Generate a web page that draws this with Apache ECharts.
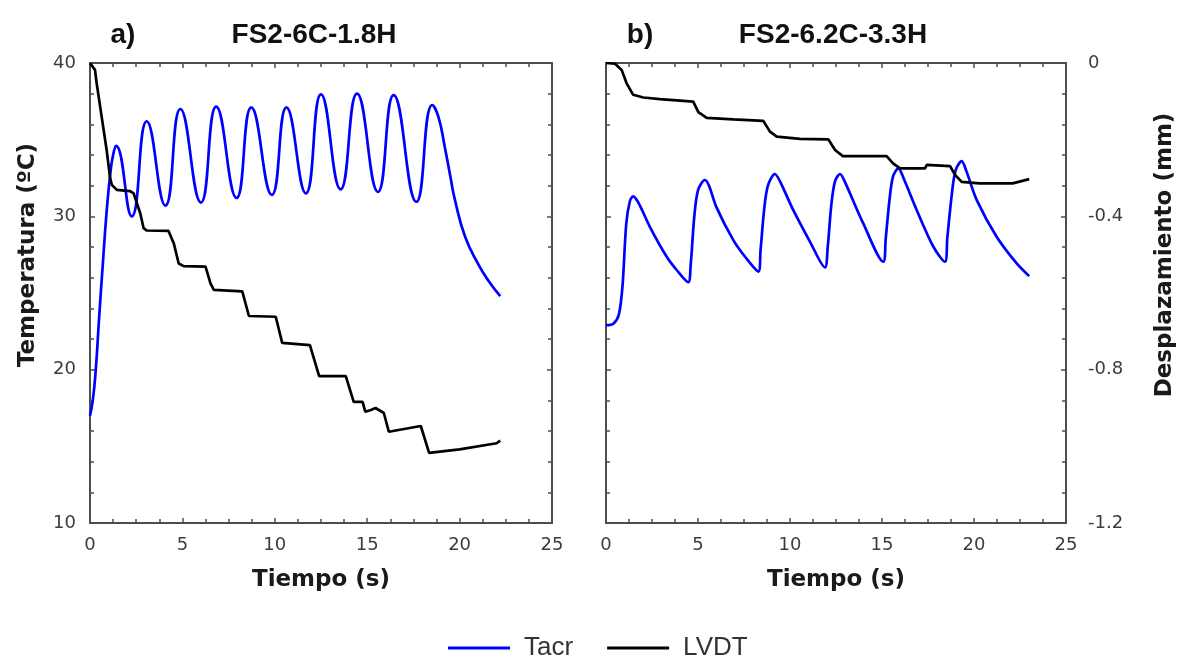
<!DOCTYPE html>
<html>
<head>
<meta charset="utf-8">
<script src="https://cdn.jsdelivr.net/npm/echarts@6/dist/echarts.min.js"></script>
<style>
html,body{margin:0;padding:0;background:#fff;}
#chart{width:1183px;height:659px;}
</style>
</head>
<body>
<div id="chart"></div>
<script>
// ---- Panel a) FS2-6C-1.8H ----
const aTempTime = [0, 0.15, 0.3, 0.5, 0.7, 0.9, 1.1, 1.25, 1.41, 2.26, 3.07, 4.08, 4.89, 6.0, 6.83, 7.93, 8.73, 9.84, 10.63, 11.68, 12.5, 13.56, 14.45, 15.58, 16.43, 17.66, 18.52, 18.85, 19.2, 19.5, 19.75, 20.3, 21.0, 21.56, 22.2];
const aTemp     = [17.0, 18.0, 19.8, 23.5, 27.0, 30.3, 32.8, 34.0, 34.6, 30.0, 36.2, 30.7, 37.0, 30.9, 37.15, 31.2, 37.1, 31.4, 37.1, 31.5, 37.96, 31.76, 38.0, 31.6, 37.9, 30.95, 37.26, 36.5, 34.5, 32.6, 31.06, 28.67, 26.9, 25.8, 24.8];
const aDispTime = [0, 0.27, 0.36, 0.63, 0.9, 1.09, 1.18, 1.45, 2.17, 2.36, 2.72, 2.9, 3.08, 4.25, 4.53, 4.8, 5.07, 6.25, 6.52, 6.7, 8.24, 8.6, 10.05, 10.4, 11.9, 12.4, 13.84, 14.27, 14.75, 14.9, 15.2, 15.45, 15.9, 16.17, 17.9, 18.35, 20.0, 22.0, 22.2];
const aDisp     = [0, -0.018, -0.053, -0.14, -0.227, -0.30, -0.318, -0.331, -0.334, -0.34, -0.392, -0.431, -0.437, -0.438, -0.47, -0.523, -0.53, -0.531, -0.575, -0.592, -0.596, -0.66, -0.662, -0.73, -0.736, -0.817, -0.817, -0.884, -0.884, -0.91, -0.905, -0.90, -0.913, -0.962, -0.947, -1.017, -1.008, -0.992, -0.985];

// ---- Panel b) FS2-6.2C-3.3H ----
const bTempTime = [0, 0.4, 0.7, 0.9, 1.1, 1.3, 1.48, 1.8, 2.39, 3.3, 3.84, 4.47,
                   4.6, 4.8, 5.0, 5.38, 5.6, 6.0, 6.92, 7.6, 8.28,
                   8.4, 8.6, 8.8, 9.18, 9.45, 10.18, 11.09, 11.9,
                   12.05, 12.25, 12.45, 12.72, 13.0, 13.98, 15.07,
                   15.2, 15.4, 15.6, 15.89, 16.2, 16.89, 17.8, 18.42,
                   18.55, 18.8, 19.0, 19.33, 19.6, 20.15, 21.23, 22.32, 23.0];
const bTemp     = [22.9, 23.0, 23.6, 25.5, 29.5, 31.0, 31.3, 30.8, 29.3, 27.36, 26.5, 25.7,
                   26.8, 30.0, 31.7, 32.37, 32.0, 30.6, 28.45, 27.3, 26.4,
                   27.8, 30.5, 32.0, 32.76, 32.3, 30.4, 28.34, 26.67,
                   28.0, 30.8, 32.3, 32.76, 32.2, 29.54, 27.04,
                   28.5, 31.0, 32.6, 33.13, 32.4, 30.4, 28.0, 27.04,
                   28.6, 31.5, 33.0, 33.6, 32.9, 31.06, 28.67, 26.93, 26.1];
const bDispTime = [0, 0.49, 0.85, 1.12, 1.48, 2.03, 2.93, 4.74, 5.02, 5.47, 6.92, 8.55, 8.91, 9.28, 10.54, 12.08, 12.45, 12.87, 15.25, 15.6, 15.98, 17.34, 17.43, 18.7, 18.97, 19.33, 20.3, 22.1, 23.0];
const bDisp     = [0, -0.002, -0.018, -0.053, -0.083, -0.09, -0.094, -0.101, -0.128, -0.143, -0.147, -0.151, -0.179, -0.192, -0.198, -0.199, -0.227, -0.243, -0.243, -0.262, -0.275, -0.275, -0.266, -0.269, -0.292, -0.31, -0.314, -0.314, -0.303];

// ---- Axes / labels ----
const titles = ['FS2-6C-1.8H', 'FS2-6.2C-3.3H'];
const panelTags = ['a)', 'b)'];
const xName = 'Tiempo (s)';
const yLeftName = 'Temperatura (ºC)';
const yRightName = 'Desplazamiento (mm)';
const seriesNames = ['Tacr', 'LVDT'];
const tempRange = [10, 40, 10];
const dispRange = [-1.2, 0, 0.4];
const timeRange = [0, 25, 5];

const zip = (a, b) => a.map((v, i) => [v, b[i]]);

const FRAME = '#4d4d4d';
const tickFont = { fontFamily: 'DejaVu Sans', fontSize: 18, color: '#3c3c3c' };
const nameFont = { fontFamily: 'DejaVu Sans', fontWeight: 'bold', fontSize: 23, color: '#1a1a1a' };

function xAx(grid, pos, labels) {
  return {
    type: 'value', gridIndex: grid, position: pos,
    min: timeRange[0], max: timeRange[1], interval: timeRange[2],
    axisLine: { show: true, onZero: false, lineStyle: { color: FRAME, width: 2 } },
    axisTick: { show: true, inside: true, length: 5, lineStyle: { color: FRAME, width: 1.5 } },
    minorTick: { show: true, splitNumber: 4, length: 4, lineStyle: { color: FRAME, width: 1.5 } },
    splitLine: { show: false },
    axisLabel: Object.assign({ show: labels, margin: 13 }, tickFont),
    name: labels ? xName : '', nameLocation: 'middle', nameGap: 46,
    nameTextStyle: nameFont
  };
}
function yAx(grid, pos, range, labels, name, gap, margin) {
  return {
    type: 'value', gridIndex: grid, position: pos,
    min: range[0], max: range[1], interval: range[2],
    axisLine: { show: true, onZero: false, lineStyle: { color: FRAME, width: 2 } },
    axisTick: { show: true, inside: true, length: 5, lineStyle: { color: FRAME, width: 1.5 } },
    minorTick: { show: true, splitNumber: 5, length: 4, lineStyle: { color: FRAME, width: 1.5 } },
    splitLine: { show: false },
    axisLabel: Object.assign({ show: labels, margin: margin, align: pos === 'right' ? 'left' : 'right' }, tickFont),
    name: name || '', nameLocation: 'middle', nameGap: gap || 0, nameRotate: 90,
    nameTextStyle: Object.assign({ padding: [0, 0, 0, 76] }, nameFont)
  };
}

const blue = '#0000ff';
const black = '#000000';
function line(name, xi, yi, data, color, smooth) {
  return {
    name: name, type: 'line', xAxisIndex: xi, yAxisIndex: yi,
    data: data, showSymbol: false, symbol: 'none', smooth: smooth,
    color: color, lineStyle: { color: color, width: 2.7 }, animation: false
  };
}

const titleStyle = { fontFamily: 'Liberation Sans', fontWeight: 'bold', fontSize: 28, color: '#111' };
const chart = echarts.init(document.getElementById('chart'), null, { renderer: 'canvas' });
chart.setOption({
  animation: false,
  backgroundColor: '#ffffff',
  title: [
    { text: panelTags[0], left: 118, top: 16, textAlign: 'center', textStyle: titleStyle },
    { text: titles[0], left: 309, top: 16, textAlign: 'center', textStyle: titleStyle },
    { text: panelTags[1], left: 635, top: 16, textAlign: 'center', textStyle: titleStyle },
    { text: titles[1], left: 828, top: 16, textAlign: 'center', textStyle: titleStyle }
  ],
  legend: {
    data: seriesNames, left: 443, top: 630,
    icon: 'rect', itemWidth: 62, itemHeight: 3, itemGap: 34,
    textStyle: { fontFamily: 'Liberation Sans', fontSize: 26, color: '#333', padding: [0, 0, 0, 9] }
  },
  grid: [
    { left: 90, top: 63, width: 462, height: 460 },
    { left: 606, top: 63, width: 460, height: 460 }
  ],
  xAxis: [xAx(0, 'bottom', true), xAx(0, 'top', false), xAx(1, 'bottom', true), xAx(1, 'top', false)],
  yAxis: [
    yAx(0, 'left', tempRange, true, yLeftName, 50, 14),
    yAx(0, 'right', dispRange, false, '', 0, 8),
    yAx(1, 'left', tempRange, false, '', 0, 8),
    yAx(1, 'right', dispRange, true, yRightName, 88, 22)
  ],
  series: [
    line(seriesNames[0], 0, 0, zip(aTempTime, aTemp), blue, 0.5),
    line(seriesNames[1], 0, 1, zip(aDispTime, aDisp), black, false),
    line(seriesNames[0], 2, 2, zip(bTempTime, bTemp), blue, 0.3),
    line(seriesNames[1], 2, 3, zip(bDispTime, bDisp), black, false)
  ]
});
</script>
</body>
</html>
